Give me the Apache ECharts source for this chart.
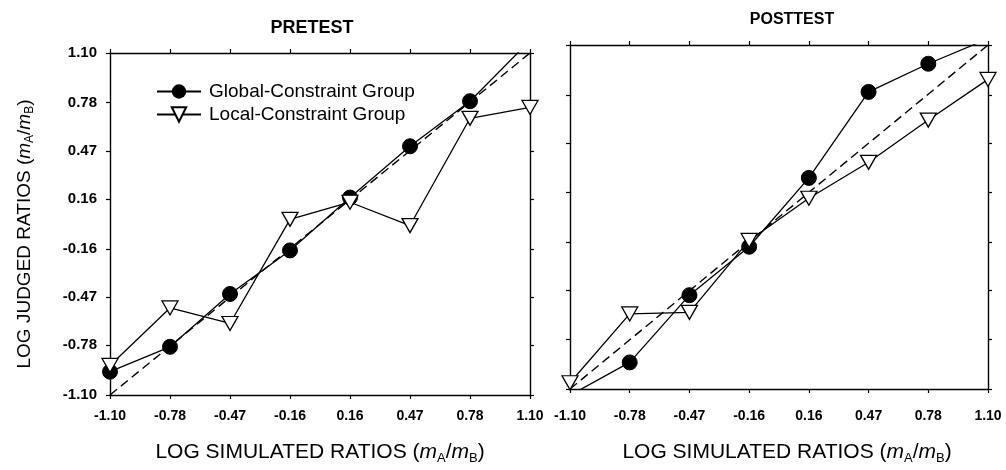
<!DOCTYPE html>
<html>
<head>
<meta charset="utf-8">
<script src="https://cdn.jsdelivr.net/npm/echarts@6/dist/echarts.min.js"></script>
<style>html,body{margin:0;padding:0;background:#fff}#c{width:1006px;height:470px}</style>
</head>
<body>
<div id="c"></div>
<script>
const xLabels = ['-1.10','-0.78','-0.47','-0.16','0.16','0.47','0.78','1.10'];
const yTicks = [-1.10, -0.78, -0.47, -0.16, 0.16, 0.47, 0.78, 1.10];
const identityLine = [[0, -1.10], [7, 1.10]];
const preGlobal = [-0.95, -0.79, -0.45, -0.17, 0.17, 0.50, 0.79, 1.18];
const preLocal  = [-0.91, -0.54, -0.64, 0.03, 0.14, -0.01, 0.68, 0.75];
const postGlobal = [-1.14, -0.93, -0.50, -0.19, 0.25, 0.80, 0.98, 1.14];
const postLocal  = [-1.06, -0.62, -0.61, -0.15, 0.12, 0.35, 0.62, 0.88];
const seriesNames = ['Global-Constraint Group', 'Local-Constraint Group'];
const panelTitles = ['PRETEST', 'POSTTEST'];

const FONT = 'Liberation Sans';
const INK = '#000';
const triPath = 'path://M0,0 L16,0 L8,14 Z';

function nameRich(size) {
  return {
    n: {fontFamily: FONT, fontSize: size, color: INK},
    it: {fontFamily: FONT, fontSize: size, fontStyle: 'italic', color: INK},
    sub: {fontFamily: FONT, fontSize: Math.round(size * 0.62), color: INK, padding: [Math.round(size * 0.55), 0, 0, 0]}
  };
}
const xName = '{n|LOG SIMULATED RATIOS (}{it|m}{sub|A}{n|/}{it|m}{sub|B}{n|)}';
const yName = '{n|LOG JUDGED RATIOS (}{it|m}{sub|A}{n|/}{it|m}{sub|B}{n|)}';

const grids = [
  {left: 110, top: 53, width: 420, height: 345},
  {left: 570, top: 45, width: 418, height: 347}
];

const tickStyle = {show: true, length: 4, lineStyle: {color: '#000', width: 1.2}};
const axisLineStyle = {show: true, onZero: false, lineStyle: {color: '#000', width: 1.4}};

function xAxes(gi, labelMargin, nameGap, namePad) {
  return [
    {
      type: 'category', gridIndex: gi, data: xLabels, boundaryGap: false, position: 'bottom',
      axisLine: axisLineStyle, axisTick: tickStyle,
      axisLabel: {fontFamily: FONT, fontSize: 14, fontWeight: 'bold', color: INK, margin: labelMargin, interval: 0},
      name: xName, nameLocation: 'middle', nameGap: nameGap,
      nameTextStyle: {rich: nameRich(21), padding: namePad},
      splitLine: {show: false}
    },
    {
      type: 'category', gridIndex: gi, data: xLabels, boundaryGap: false, position: 'top',
      axisLine: axisLineStyle, axisTick: tickStyle,
      axisLabel: {show: false}, splitLine: {show: false}
    }
  ];
}
function yAxes(gi, showLabels, withName) {
  const base = {
    type: 'value', gridIndex: gi, min: -1.10, max: 1.10,
    axisLine: axisLineStyle,
    axisTick: Object.assign({}, tickStyle, {customValues: yTicks}),
    splitLine: {show: false}
  };
  const left = Object.assign({}, base, {
    position: 'left',
    axisLabel: {show: showLabels, customValues: yTicks, fontFamily: FONT, fontSize: 15, fontWeight: 'bold', color: INK, margin: 13,
      formatter: v => v.toFixed(2)}
  });
  if (withName) {
    Object.assign(left, {name: yName, nameLocation: 'middle', nameGap: 74,
      nameTextStyle: {rich: nameRich(19), padding: [0, 20, 0, 0]}});
  }
  const right = Object.assign({}, base, {position: 'right', axisLabel: {show: false}});
  return [left, right];
}

const lineStyle = {color: '#000', width: 1.3};
function dataSeries(gi, globalData, localData) {
  const xi = gi * 2, yi = gi * 2;
  return [
    {type: 'line', name: 'identity', xAxisIndex: xi, yAxisIndex: yi, data: identityLine,
      symbol: 'none', silent: true, lineStyle: {color: '#000', width: 1.4, type: [9, 5]}, z: 1},
    {type: 'line', name: seriesNames[0], xAxisIndex: xi, yAxisIndex: yi, data: globalData,
      symbol: 'circle', symbolSize: 15, lineStyle: lineStyle,
      itemStyle: {color: '#000', borderColor: '#000'}, z: 3, clip: true},
    {type: 'line', name: seriesNames[1], xAxisIndex: xi, yAxisIndex: yi, data: localData,
      symbol: triPath, symbolSize: [16, 14], showAllSymbol: true, lineStyle: lineStyle,
      itemStyle: {color: '#fff', borderColor: '#000', borderWidth: 1.3}, z: 4, clip: true}
  ];
}

const option = {
  backgroundColor: '#fff',
  animation: false,
  title: [
    {text: panelTitles[0], left: 307, top: 14, textAlign: 'center',
      textStyle: {fontFamily: FONT, fontSize: 18, fontWeight: 'bold', color: INK}},
    {text: panelTitles[1], left: 787, top: 7, textAlign: 'center',
      textStyle: {fontFamily: FONT, fontSize: 16, fontWeight: 'bold', color: INK}}
  ],
  legend: {
    data: seriesNames, orient: 'vertical', left: 151, top: 77,
    itemWidth: 44, itemHeight: 18, itemGap: 4,
    textStyle: {fontFamily: FONT, fontSize: 19, color: INK, padding: [0, 0, 0, 3]},
    inactiveColor: '#ccc'
  },
  grid: grids,
  xAxis: [...xAxes(0, 14, 45, [0, 0, 0, 0]), ...xAxes(1, 20, 51, [0, 0, 0, 16])],
  yAxis: [...yAxes(0, true, true), ...yAxes(1, false, false)],
  series: [...dataSeries(0, preGlobal, preLocal), ...dataSeries(1, postGlobal, postLocal)]
};
echarts.init(document.getElementById('c'), null, {renderer: 'canvas'}).setOption(option);
</script>
</body>
</html>
